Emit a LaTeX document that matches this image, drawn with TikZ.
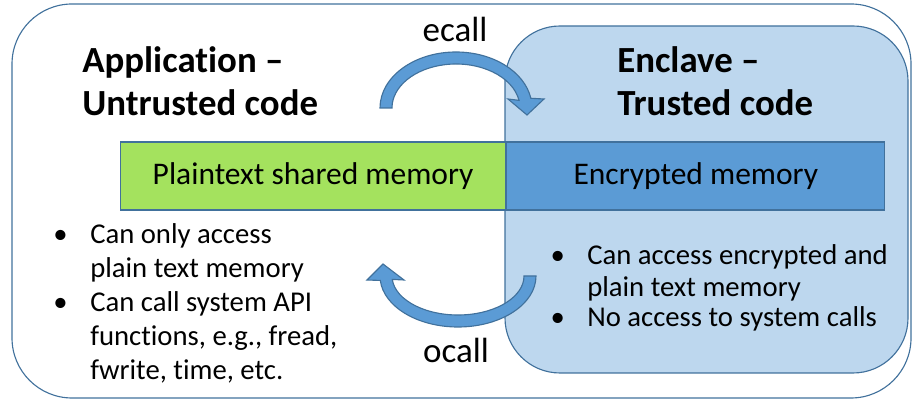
\documentclass[tikz,border=0pt]{standalone}
\usepackage{fontspec}
\setmainfont{Carlito}[Ligatures=NoCommon]
\usepackage{tikz}
\usetikzlibrary{calc}

\definecolor{edgeblue}{RGB}{65,113,156}
\definecolor{enclavefill}{RGB}{189,215,238}
\definecolor{plaingreen}{RGB}{164,226,94}
\definecolor{cryptblue}{RGB}{91,155,213}

\tikzset{
  heading/.style={anchor=base west, align=left, inner sep=0pt,
    font=\fontsize{26.2}{30.6}\selectfont\bfseries},
  bullets/.style={anchor=base west, align=left, inner sep=0pt,
    font=\fontsize{20.4}{24.2}\selectfont},
  membar/.style={draw=edgeblue, line width=0.8pt, inner sep=0pt,
    minimum height=1.7cm, anchor=west, font=\fontsize{22.4}{26}\selectfont},
  callarrow/.style={fill=cryptblue, draw=edgeblue, line width=0.8pt},
  calllabel/.style={anchor=base, inner sep=0pt, font=\fontsize{24.9}{28}\selectfont}
}
\newcommand{\bul}{\llap{\textbullet\hspace{16pt}}}

\begin{document}
\begin{tikzpicture}[x=0.025cm, y=0.025cm]
\useasboundingbox (0,0) rectangle (913,400);

% frames
\draw[edgeblue, line width=0.8pt, rounded corners=1.5cm] (12,2) rectangle (911,396);
\draw[edgeblue, fill=enclavefill, line width=0.8pt, rounded corners=1.375cm] (505,27) rectangle (908,374);

% memory bar
\node[membar, fill=plaingreen, minimum width=9.625cm] (plain) at (120,224) {Plaintext shared memory};
\node[membar, fill=cryptblue, minimum width=9.45cm] (crypt) at (plain.east) {Encrypted memory};

% headings (base = last line)
\node[heading] (app) at (82,284) {Application --\\Untrusted code};
\node[heading] (encl) at (617,284) {Enclave --\\Trusted code};

% ecall / ocall
\coordinate (ec) at (456,292);
\coordinate (oc) at (458,124);
\fill[callarrow] (380,292) arc[start angle=180, end angle=10, x radius=76, y radius=56]
  -- (544,301) -- (527,285) -- (508,301)
  -- ([shift={(ec)}]10:64 and 44) arc[start angle=10, end angle=180, x radius=64, y radius=44] -- cycle;
\fill[callarrow] (536,124) arc[start angle=0, end angle=-175, x radius=78, y radius=51]
  -- (367,120) -- (383,136) -- (404,120)
  -- ([shift={(oc)}]-175:66 and 39) arc[start angle=-175, end angle=0, x radius=66, y radius=39] -- cycle;
\node[calllabel] (ecall) at (455,358) {ecall};
\node[calllabel] (ocall) at (456,37) {ocall};

% bullet lists
\node[bullets] (untr1) at (90,122) {\bul Can only access\\plain text memory};
\node[bullets] (untr2) at (90,20) {\bul Can call system API\\functions, e.g., fread,\\fwrite, time, etc.};
\node[bullets, font=\fontsize{20.4}{22.8}\selectfont] (tr1) at (587,103) {\bul Can access encrypted and\\plain text memory};
\node[bullets] (tr2) at (587,73) {\bul No access to system calls};

\end{tikzpicture}
\end{document}
